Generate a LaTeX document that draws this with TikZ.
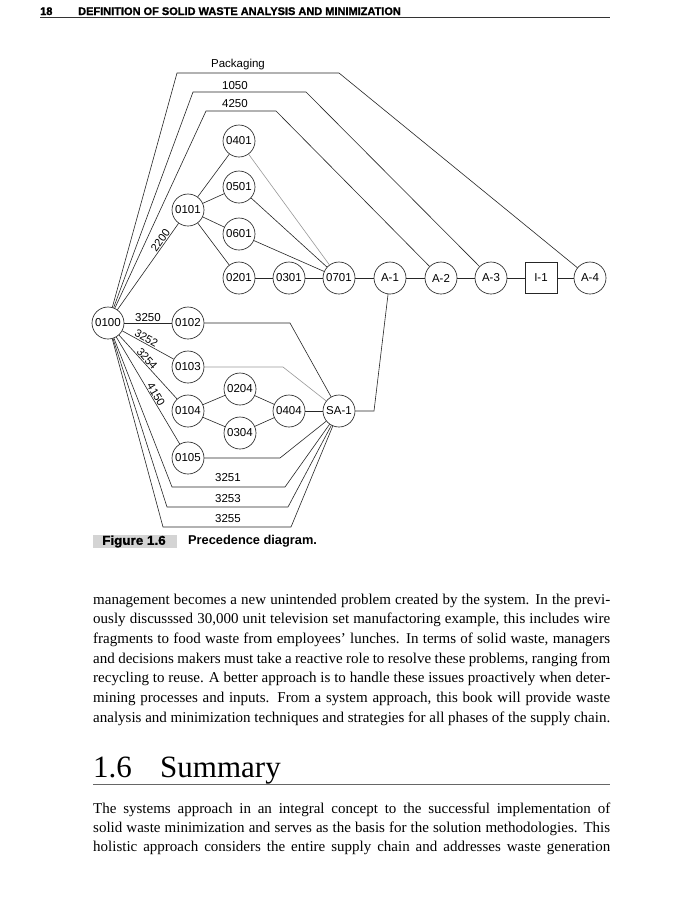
\documentclass[tikz,border=0pt]{standalone}
\usepackage{fontspec}
\setmainfont{Liberation Serif}
\setsansfont{Liberation Sans}
\newfontfamily\heavysans{Liberation Sans Bold}[FakeBold=1.4]
\begin{document}
\begin{tikzpicture}[x=1pt,y=-1pt,
  nd/.style={circle,draw=black!85,line width=0.65pt,minimum size=32pt,inner sep=0pt,font=\sffamily\fontsize{11.5}{12}\selectfont},
  sqbox/.style={rectangle,draw=black!85,line width=0.65pt,minimum width=32pt,minimum height=31pt,inner sep=0pt,font=\sffamily\fontsize{11.5}{12}\selectfont},
  ln/.style={draw=black!85,line width=0.6pt},
  lt/.style={draw=black!40,line width=0.6pt},
  lb/.style={font=\sffamily\fontsize{11.5}{12}\selectfont,inner sep=1.5pt},
  slb/.style={font=\sffamily\fontsize{11}{12}\selectfont,inner sep=0.8pt,sloped,above},
  bodyline/.style={anchor=base west,inner sep=0pt,font=\fontsize{15}{19}\selectfont},
  hdr/.style={anchor=base west,inner sep=0pt,font=\heavysans\fontsize{11}{12}\selectfont},
  rulegray/.style={draw=black!60,line width=0.6pt}
]
\useasboundingbox[fill=white] (0,0) rectangle (695,900);

% header
\node[hdr] (pg) at (40,15) {18};
\node[hdr] (hd) at (78,15) {DEFINITION OF SOLID WASTE ANALYSIS AND MINIMIZATION};
\coordinate (hr1) at (40,17.5); \coordinate (hr2) at (610,17.5);
\draw[draw=black!80,line width=0.6pt] (hr1) -- (hr2);

% nodes
\node[nd] (n0100) at (108,323) {0100};
\node[nd] (n0101) at (188,210) {0101};
\node[nd] (n0102) at (188,323) {0102};
\node[nd] (n0103) at (188,367) {0103};
\node[nd] (n0104) at (188,411) {0104};
\node[nd] (n0105) at (188,458) {0105};
\node[nd] (n0401) at (239,141) {0401};
\node[nd] (n0501) at (239,187) {0501};
\node[nd] (n0601) at (239,234) {0601};
\node[nd] (n0201) at (239,278) {0201};
\node[nd] (n0301) at (289,278) {0301};
\node[nd] (n0701) at (339,278) {0701};
\node[nd] (A1) at (390,278) {A-1};
\node[nd] (A2) at (441,278) {A-2};
\node[nd] (A3) at (491,278) {A-3};
\node[sqbox] (I1) at (541,278) {I-1};
\node[nd] (A4) at (590,278) {A-4};
\node[nd] (n0204) at (240,389) {0204};
\node[nd] (n0304) at (240,433) {0304};
\node[nd] (n0404) at (289,411) {0404};
\node[nd] (SA1) at (339,411) {SA-1};

% bend points
\coordinate (pk1) at (177,73); \coordinate (pk2) at (339,73);
\coordinate (c1) at (193,92); \coordinate (c2) at (306,92);
\coordinate (d1) at (206,111); \coordinate (d2) at (276,111);
\coordinate (e1) at (290,323);
\coordinate (f1) at (283,367);
\coordinate (g1) at (280,458);
\coordinate (h1) at (172,487); \coordinate (h2) at (285,487);
\coordinate (i1) at (167,507); \coordinate (i2) at (288,507);
\coordinate (j1) at (163,527); \coordinate (j2) at (291,527);
\coordinate (k1) at (374,411);

% top routes
\draw[ln] (n0100) -- (pk1) -- (pk2) -- (A4);
\draw[ln] (n0100) -- (c1) -- (c2) -- (A3);
\draw[ln] (n0100) -- (d1) -- (d2) -- (A2);
\node[lb] (lpk) at (238,65) {Packaging};
\node[lb] (l1050) at (235,86) {1050};
\node[lb] (l4250) at (235,104) {4250};
\draw[ln] (n0100) -- node[slb,pos=0.77] (l2200) {2200} (n0101);

% upper network
\draw[ln] (n0101) -- (n0401);
\draw[ln] (n0101) -- (n0501);
\draw[ln] (n0101) -- (n0601);
\draw[ln] (n0101) -- (n0201);
\draw[lt] (n0401) -- (n0701);
\draw[ln] (n0501) -- (n0701);
\draw[ln] (n0601) -- (n0701);
\draw[ln] (n0201) -- (n0301);
\draw[ln] (n0301) -- (n0701);
\draw[ln] (n0701) -- (A1);
\draw[ln] (A1) -- (A2);
\draw[ln] (A2) -- (A3);
\draw[ln] (A3) -- (I1);
\draw[ln] (I1) -- (A4);
\draw[ln] (A1) -- (k1) -- (SA1);

% lower network
\draw[ln] (n0100) -- node[lb,above,pos=0.5] (l3250) {3250} (n0102);
\draw[ln] (n0100) -- node[slb,pos=0.42] (l3252) {3252} (n0103);
\draw[ln] (n0100) -- node[slb,pos=0.42] (l3254) {3254} (n0104);
\draw[ln] (n0100) -- node[slb,pos=0.56] (l4150) {4150} (n0105);
\draw[ln] (n0102) -- (e1) -- (SA1);
\draw[lt] (n0103) -- (f1) -- (SA1);
\draw[ln] (n0104) -- (n0204);
\draw[ln] (n0104) -- (n0304);
\draw[ln] (n0204) -- (n0404);
\draw[ln] (n0304) -- (n0404);
\draw[ln] (n0404) -- (SA1);
\draw[ln] (n0105) -- (g1) -- (SA1);
\draw[ln] (n0100) -- (h1) -- (h2) -- (SA1);
\draw[ln] (n0100) -- (i1) -- (i2) -- (SA1);
\draw[ln] (n0100) -- (j1) -- (j2) -- (SA1);
\node[lb] (l3251) at (228,478) {3251};
\node[lb] (l3253) at (228,499) {3253};
\node[lb] (l3255) at (228,519) {3255};

% caption
\node[fill=black!17,minimum width=84pt,minimum height=13pt,inner sep=0pt,anchor=west] (capbox) at (93,541.5) {};
\node[anchor=west,inner sep=0pt,font=\heavysans\fontsize{12.8}{14}\selectfont] (capfig) at (102,541.5) {\scalebox{1.05}[1]{Figure 1.6}};
\node[anchor=west,inner sep=0pt,font=\sffamily\bfseries\fontsize{12.8}{14}\selectfont] (captxt) at (188,541.5) {Precedence diagram.};

% paragraph 1
\node[bodyline] (p1) at (93,604) {\makebox[517pt][s]{management becomes a new unintended problem created by the system. In the previ-}};
\node[bodyline] (p2) at (93,623.7) {\makebox[517pt][s]{ously discusssed 30,000 unit television set manufactoring example, this includes wire}};
\node[bodyline] (p3) at (93,643.3) {\makebox[517pt][s]{fragments to food waste from employees’ lunches. In terms of solid waste, managers}};
\node[bodyline] (p4) at (93,663) {\makebox[517pt][s]{and decisions makers must take a reactive role to resolve these problems, ranging from}};
\node[bodyline] (p5) at (93,682.7) {\makebox[517pt][s]{recycling to reuse. A better approach is to handle these issues proactively when deter-}};
\node[bodyline] (p6) at (93,702.3) {\makebox[517pt][s]{mining processes and inputs. From a system approach, this book will provide waste}};
\node[bodyline] (p7) at (93,722) {\makebox[517pt][s]{analysis and minimization techniques and strategies for all phases of the supply chain.}};

% heading
\node[anchor=base west,inner sep=0pt,font=\fontsize{31}{36}\selectfont] (h16) at (93,777) {1.6};
\node[anchor=base west,inner sep=0pt,font=\fontsize{31}{36}\selectfont] (hsum) at (160,777) {Summary};
\coordinate (sr1) at (93,784); \coordinate (sr2) at (610,784);
\draw[rulegray] (sr1) -- (sr2);

% paragraph 2
\node[bodyline] (q1) at (93,813) {\makebox[517pt][s]{The systems approach in an integral concept to the successful implementation of}};
\node[bodyline] (q2) at (93,832) {\makebox[517pt][s]{solid waste minimization and serves as the basis for the solution methodologies. This}};
\node[bodyline] (q3) at (93,851) {\makebox[517pt][s]{holistic approach considers the entire supply chain and addresses waste generation}};
\end{tikzpicture}
\end{document}
